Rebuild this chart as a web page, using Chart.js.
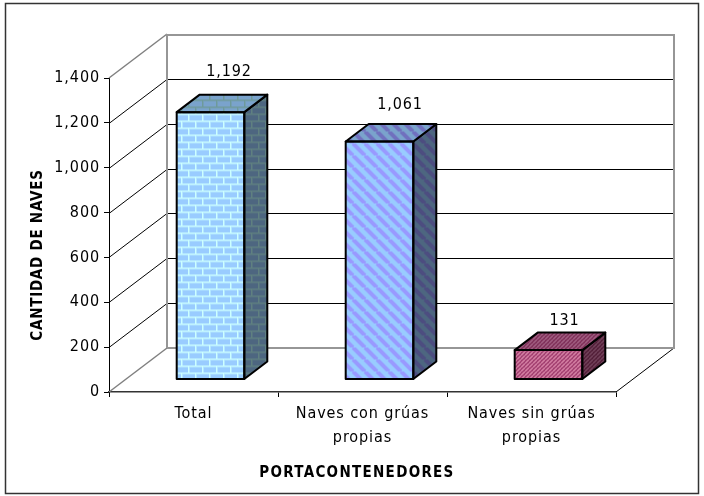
<!DOCTYPE html>
<html>
<head>
<meta charset="utf-8">
<style>html,body{margin:0;padding:0;background:#fff}canvas{display:block}</style>
<script src="https://cdn.jsdelivr.net/npm/chart.js@4"></script>
</head>
<body>
<canvas id="c" width="704" height="496"></canvas>
<script>
const categories = ["Total", ["Naves con grúas", "propias"], ["Naves sin grúas", "propias"]];
const values = [1192, 1061, 131];
const valueLabels = ["1,192", "1,061", "131"];
const yTicks = [0, 200, 400, 600, 800, 1000, 1200, 1400];
const yTitle = "CANTIDAD DE NAVES";
const xTitle = "PORTACONTENEDORES";

const FONT = '"DejaVu Sans Condensed", "DejaVu Sans"';
const WALL = {dx: 58, dy: -44};
const BAR_SHIFT = {dx: 17, dy: -12.5};
const BAR_DEPTH = {dx: 23, dy: -17.5};
const LABEL_OFF = [{dx: 18.5, dy: -40}, {dx: 20.5, dy: -37}, {dx: 16, dy: -29}];

function tile(w, h, paint) {
  const c = document.createElement('canvas');
  c.width = w; c.height = h;
  paint(c.getContext('2d'), w, h);
  return c.getContext('2d').createPattern(c, 'repeat');
}
function brick(bg, fg, soft) {
  return tile(14, 14, (g, w, h) => {
    g.fillStyle = bg; g.fillRect(0, 0, w, h);
    g.fillStyle = soft;
    g.fillRect(0, 1, w, 1); g.fillRect(0, 8, w, 1);
    g.fillRect(4, 0, 1, 7); g.fillRect(11, 7, 1, 7);
    g.fillStyle = fg;
    g.fillRect(0, 0, w, 1); g.fillRect(0, 7, w, 1);
    g.fillRect(3, 0, 1, 7); g.fillRect(10, 7, 1, 7);
  });
}
function stripes(bg, fg, size, lw, dir) {
  return tile(size, size, (g, w, h) => {
    g.fillStyle = bg; g.fillRect(0, 0, w, h);
    g.strokeStyle = fg; g.lineWidth = lw;
    for (let k = -1; k <= 1; k++) {
      g.beginPath();
      if (dir > 0) { g.moveTo(k * w, 0); g.lineTo(k * w + w, h); }
      else { g.moveTo(k * w + w, 0); g.lineTo(k * w, h); }
      g.stroke();
    }
  });
}
const frontFills = [
  brick('#99CCFF', '#CCFFFF', '#B3E6FF'),
  stripes('#99CCFF', '#9999FF', 12, 4, 1),
  stripes('#993366', '#E08FB0', 4, 1.4, -1)
];
const topFills = [
  brick('#7AA3CC', '#6E9A9A', '#749FB3'),
  stripes('#7AA3CC', '#7070BE', 12, 4, 1),
  stripes('#7A2952', '#A8688A', 4, 1.4, -1)
];
const sideFills = [
  brick('#4D6680', '#5F8080', '#567380'),
  stripes('#4D6680', '#4D4D80', 12, 4, 1),
  stripes('#4D1933', '#7A4A62', 4, 1.4, -1)
];

function line(ctx, pts, color, width) {
  ctx.beginPath();
  pts.forEach((p, i) => i ? ctx.lineTo(p[0], p[1]) : ctx.moveTo(p[0], p[1]));
  ctx.strokeStyle = color; ctx.lineWidth = width; ctx.stroke();
}
function poly(ctx, pts, fill) {
  ctx.beginPath();
  pts.forEach((p, i) => i ? ctx.lineTo(p[0], p[1]) : ctx.moveTo(p[0], p[1]));
  ctx.closePath();
  if (fill) { ctx.fillStyle = fill; ctx.fill(); }
  ctx.strokeStyle = '#000'; ctx.lineWidth = 2; ctx.lineJoin = 'round'; ctx.stroke();
}

const chart3d = {
  id: 'chart3d',
  beforeDraw(chart) {
    const ctx = chart.ctx;
    ctx.letterSpacing = '0.9px';
    ctx.fillStyle = '#fff';
    ctx.fillRect(0, 0, chart.width, chart.height);
    ctx.strokeStyle = '#333'; ctx.lineWidth = 1.5;
    ctx.strokeRect(5.5, 3.5, 693, 490);
  },
  beforeDatasetsDraw(chart) {
    const ctx = chart.ctx, a = chart.chartArea, y = chart.scales.y;
    const x0 = a.left, x1 = a.right, bx = x0 + WALL.dx, rx = x1 + WALL.dx;
    ctx.save();
    yTicks.slice(1, -1).forEach(v => {
      const p = Math.round(y.getPixelForValue(v)) + 0.5;
      line(ctx, [[x0, p], [bx, p + WALL.dy], [rx, p + WALL.dy]], '#000', 1);
    });
    const top = y.getPixelForValue(yTicks[yTicks.length - 1]);
    const bot = y.getPixelForValue(0);
    line(ctx, [[x1, bot], [rx, bot + WALL.dy]], '#000', 1);
    line(ctx, [[x0, top], [bx, top + WALL.dy]], '#808080', 1.5);
    line(ctx, [[x0, bot], [bx, bot + WALL.dy]], '#808080', 1.5);
    line(ctx, [[bx, bot + WALL.dy], [rx, bot + WALL.dy], [rx, top + WALL.dy + 1], [bx, top + WALL.dy + 1], [bx, bot + WALL.dy]], '#969696', 2);
    ctx.restore();
    ctx.save();
    ctx.translate(BAR_SHIFT.dx, BAR_SHIFT.dy);
  },
  afterDatasetsDraw(chart) {
    const ctx = chart.ctx;
    chart.getDatasetMeta(0).data.forEach((el, i) => {
      const p = el.getProps(['x', 'y', 'base', 'width'], true);
      const l = p.x - p.width / 2, r = p.x + p.width / 2, d = BAR_DEPTH;
      poly(ctx, [[r, p.y], [r + d.dx, p.y + d.dy], [r + d.dx, p.base + d.dy], [r, p.base]], sideFills[i]);
      poly(ctx, [[l, p.y], [l + d.dx, p.y + d.dy], [r + d.dx, p.y + d.dy], [r, p.y]], topFills[i]);
      poly(ctx, [[l, p.y], [r, p.y], [r, p.base], [l, p.base]], null);
    });
    ctx.restore();
    ctx.save();
    ctx.fillStyle = '#000';
    ctx.font = '16px ' + FONT;
    ctx.textAlign = 'center'; ctx.textBaseline = 'middle';
    chart.getDatasetMeta(0).data.forEach((el, i) => {
      ctx.fillText(valueLabels[i], el.x + BAR_SHIFT.dx + LABEL_OFF[i].dx, el.y + BAR_SHIFT.dy + LABEL_OFF[i].dy);
    });
    ctx.font = 'bold 15px ' + FONT;
    ctx.letterSpacing = '1.3px';
    ctx.fillText(xTitle, 357, 473);
    ctx.letterSpacing = '0.75px';
    ctx.translate(38, 255);
    ctx.rotate(-Math.PI / 2);
    ctx.fillText(yTitle, 0, 0);
    ctx.restore();
  }
};

new Chart(document.getElementById('c'), {
  type: 'bar',
  plugins: [chart3d],
  data: {
    labels: categories,
    datasets: [{
      data: values,
      backgroundColor: frontFills,
      borderWidth: 0,
      categoryPercentage: 1,
      barPercentage: 0.4,
      clip: false
    }]
  },
  options: {
    responsive: false,
    animation: false,
    devicePixelRatio: 1,
    layout: {padding: {left: 0, top: 78, right: 88, bottom: 0}},
    plugins: {legend: {display: false}, tooltip: {enabled: false}, title: {display: false}},
    scales: {
      x: {
        offset: true,
        afterFit(s) { s.height = 104; },
        grid: {offset: true, drawOnChartArea: false, drawTicks: true, tickLength: 5, color: '#000'},
        border: {display: true, color: '#333', width: 1.5},
        ticks: {
          color: '#000', padding: 5, autoSkip: false, maxRotation: 0, minRotation: 0,
          font: {family: FONT, size: 16, lineHeight: 24 / 16}
        }
      },
      y: {
        min: 0, max: 1400,
        afterFit(s) { s.width = 109; },
        afterBuildTicks(s) { s.ticks = yTicks.map(v => ({value: v})); },
        grid: {drawOnChartArea: false, drawTicks: true, tickLength: 5, color: '#000'},
        border: {display: true, color: '#000', width: 1},
        ticks: {
          color: '#000', padding: 4,
          font: {family: FONT, size: 16},
          callback: v => v.toLocaleString('en-US')
        }
      }
    }
  }
});
</script>
</body>
</html>
